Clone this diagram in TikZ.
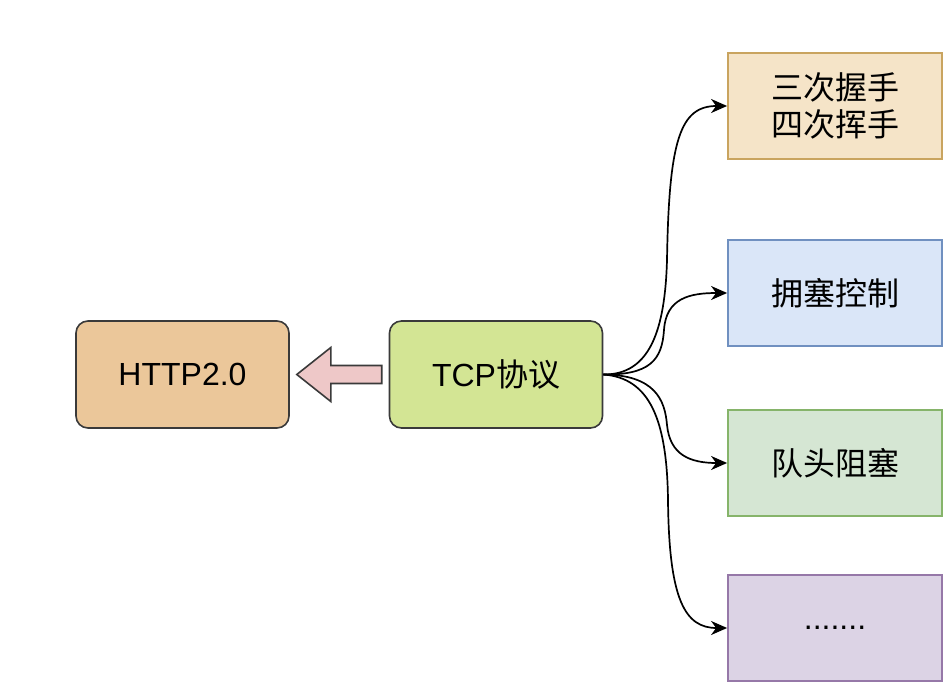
\documentclass[tikz,border=0pt]{standalone}
\usepackage{fontspec}
\setmainfont{Liberation Sans}
\newfontfamily\cjk{Noto Sans CJK SC}
\usetikzlibrary{arrows.meta,calc}
\definecolor{httpfill}{HTML}{EBC79A}
\definecolor{tcpfill}{HTML}{D3E594}
\definecolor{darkline}{HTML}{3A3A3A}
\definecolor{afill}{HTML}{F5E4C8}
\definecolor{aline}{HTML}{C9A45F}
\definecolor{bfill}{HTML}{DAE6F8}
\definecolor{bline}{HTML}{7090C0}
\definecolor{cfill}{HTML}{D5E6D3}
\definecolor{cline}{HTML}{86B46A}
\definecolor{dfill}{HTML}{DCD3E5}
\definecolor{dline}{HTML}{9678A8}
\definecolor{pinkfill}{HTML}{EEC8C8}
\begin{document}
\begin{tikzpicture}[x=1pt,y=-1pt,
  txt/.style={font=\fontsize{32}{38}\selectfont, align=center, text=black},
  roundbox/.style={txt, draw=darkline, line width=1.6pt, rounded corners=12pt,
    minimum width=213pt, minimum height=107pt, inner sep=0pt},
  sidebox/.style={txt, line width=1.8pt, minimum width=214pt, minimum height=106pt, inner sep=0pt},
  conn/.style={line width=1.7pt, black, -{Stealth[length=16pt,width=14pt,inset=5pt]}},
  bigarrow/.style={draw=darkline, line width=1.6pt, fill=pinkfill, line join=miter}
]
\useasboundingbox (0,0) rectangle (951,700);
\fill[white] (0,0) rectangle (951,700);

\node[roundbox, fill=httpfill] (http) at (182.5,374.5) {HTTP2.0};
\node[roundbox, fill=tcpfill] (tcp) at (496,374.5) {TCP{\cjk 协议}};

\node[sidebox, fill=afill, draw=aline] (b1) at (835,106) {\cjk 三次握手\\[-1pt]\cjk 四次挥手};
\node[sidebox, fill=bfill, draw=bline] (b2) at (835,293) {\cjk 拥塞控制};
\node[sidebox, fill=cfill, draw=cline] (b3) at (835,463) {\cjk 队头阻塞};
\node[sidebox, fill=dfill, draw=dline] (b4) at (835,628) {.......};

% big hollow arrow from TCP to HTTP
\draw[bigarrow]
  ($(tcp.west)+(-7,-9)$) -- ($(http.east)+(41,-9)$) -- ($(http.east)+(41,-27)$)
  -- ($(http.east)+(7,0)$)
  -- ($(http.east)+(41,27)$) -- ($(http.east)+(41,9)$) -- ($(tcp.west)+(-7,9)$) -- cycle;

% curved connectors
\draw[conn] (tcp.east) .. controls (650,375) and (665,330) .. (667,260)
  .. controls (669,140) and (680,106) .. (b1.west);
\draw[conn] (tcp.east) .. controls (650,375) and (662,360) .. (664,330)
  .. controls (666,298) and (690,293) .. (b2.west);
\draw[conn] (tcp.east) .. controls (655,375) and (665,400) .. (667,425)
  .. controls (670,455) and (690,463) .. (b3.west);
\draw[conn] (tcp.east) .. controls (650,378) and (667,420) .. (668,500)
  .. controls (669,600) and (685,628) .. (b4.west);
\end{tikzpicture}
\end{document}
